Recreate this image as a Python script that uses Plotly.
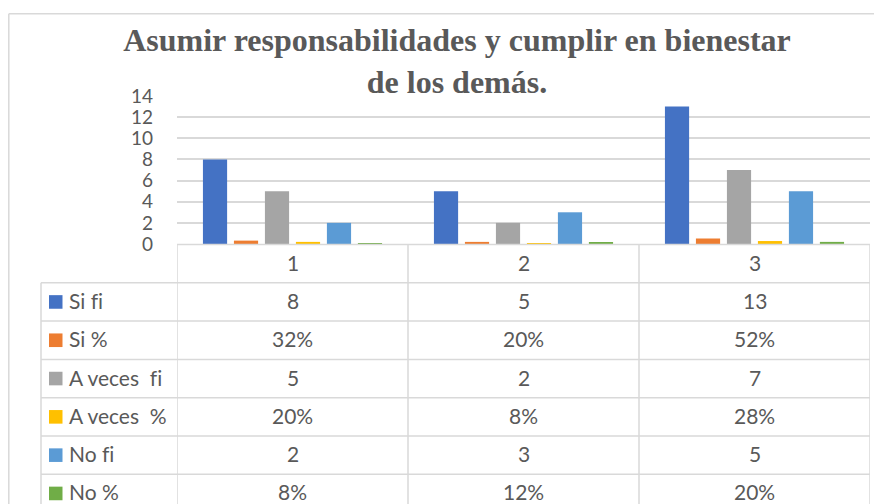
import plotly.graph_objects as go

categories = ["1", "2", "3"]
series_names = ["Si fi", "Si %", "A veces  fi", "A veces  %", "No fi", "No %"]
si_fi = [8, 5, 13]
si_pct = [0.32, 0.20, 0.52]
aveces_fi = [5, 2, 7]
aveces_pct = [0.20, 0.08, 0.28]
no_fi = [2, 3, 5]
no_pct = [0.08, 0.12, 0.20]
colors = ["#4472C4", "#ED7D31", "#A5A5A5", "#FFC000", "#5B9BD5", "#70AD47"]
y_ticks = [0, 2, 4, 6, 8, 10, 12, 14]

series_values = [si_fi, si_pct, aveces_fi, aveces_pct, no_fi, no_pct]


def fmt(name, v):
    if "%" in name:
        return f"{round(v * 100)}%"
    return str(v)


def label(name):
    # avoid the "fi" ligature and keep double spaces
    return name.replace("fi", "f\u200ci").replace("  ", "&nbsp; ")


OFF = 8  # page body margin
W, H = 882 - OFF, 504 - OFF
L, R, T, B = 177 - OFF, 12, 96 - OFF, H - (244 - OFF)
PW, PH = W - L - R, H - T - B


def px(xs):
    return (xs - OFF - L) / PW


def py(ys):
    return (H - B - (ys - OFF)) / PH


fig = go.Figure()
for name, vals, c in zip(series_names, series_values, colors):
    fig.add_trace(go.Bar(x=list(range(len(categories))), y=vals, name=name,
                         marker=dict(color=c, line=dict(width=0)),
                         showlegend=False, hoverinfo="skip"))

grid = "#D9D9D9"
txt = "#595959"
font = "Lato"
fs = 21
shapes = []
annotations = []

# outer chart border (left + top)
shapes.append(dict(type="line", xref="paper", yref="paper", x0=px(8.8), x1=px(890), y0=py(13.8), y1=py(13.8),
                   line=dict(color=grid, width=1.5)))
shapes.append(dict(type="line", xref="paper", yref="paper", x0=px(8.8), x1=px(8.8), y0=py(13.8), y1=py(520),
                   line=dict(color=grid, width=1.5)))

row_h = 38.3
top = 244.5
n_rows = len(series_names)
bottom = top + row_h * (n_rows + 1)
for i in range(n_rows + 2):
    ys = top + row_h * i
    x0 = 177 if i == 0 else 41
    shapes.append(dict(type="line", xref="paper", yref="paper", x0=px(x0), x1=px(870), y0=py(ys), y1=py(ys),
                       line=dict(color=grid, width=1.5)))
for k in range(len(categories) + 1):
    shapes.append(dict(type="line", xref="x", yref="paper", x0=k - 0.5, x1=k - 0.5, y0=py(top), y1=py(bottom),
                       line=dict(color=grid, width=1.5)))
shapes.append(dict(type="line", xref="paper", yref="paper", x0=px(41), x1=px(41), y0=py(top + row_h), y1=py(bottom),
                   line=dict(color=grid, width=1.5)))

tshift = -1.5
for k, c in enumerate(categories):
    annotations.append(dict(x=k, y=py(top + row_h / 2 + tshift), xref="x", yref="paper", text=c, showarrow=False,
                            font=dict(family=font, size=fs, color=txt), xanchor="center", yanchor="middle"))

for r, (name, vals, col) in enumerate(zip(series_names, series_values, colors)):
    yc = top + row_h * (r + 1) + row_h / 2
    shapes.append(dict(type="rect", xref="paper", yref="paper", x0=px(49), x1=px(62.5),
                       y0=py(yc - 6.8), y1=py(yc + 6.8), fillcolor=col, line=dict(width=0)))
    annotations.append(dict(x=px(67), y=py(yc + tshift), xref="paper", yref="paper", text=label(name),
                            showarrow=False, font=dict(family=font, size=fs, color=txt),
                            xanchor="left", yanchor="middle"))
    for k, v in enumerate(vals):
        annotations.append(dict(x=k, y=py(yc + tshift), xref="x", yref="paper", text=fmt(name, v), showarrow=False,
                                font=dict(family=font, size=fs, color=txt), xanchor="center", yanchor="middle"))

fig.update_layout(
    width=W, height=H,
    margin=dict(l=L, r=R, t=T, b=B),
    paper_bgcolor="white", plot_bgcolor="white",
    barmode="group", bargap=0.195, bargroupgap=0.22,
    title=dict(text="Asumir responsabilidades y cumplir en bienestar<br>de los demás.",
               x=(457 - OFF) / W, xanchor="center", xref="container",
               y=1 - 43 / H, yanchor="top", yref="container",
               font=dict(family="Liberation Serif", size=32, color=txt, weight="bold")),
    xaxis=dict(range=[-0.5, len(categories) - 0.5], showticklabels=False, showgrid=False, zeroline=False,
               showline=False, ticks=""),
    yaxis=dict(range=[0, 14], tickvals=y_ticks, showgrid=True, gridcolor=grid, gridwidth=1.5, zeroline=False,
               showline=False, ticks="", tickfont=dict(family=font, size=19, color=txt), ticklabelstandoff=23),
    shapes=shapes, annotations=annotations,
)

fig.write_html("out.html")
